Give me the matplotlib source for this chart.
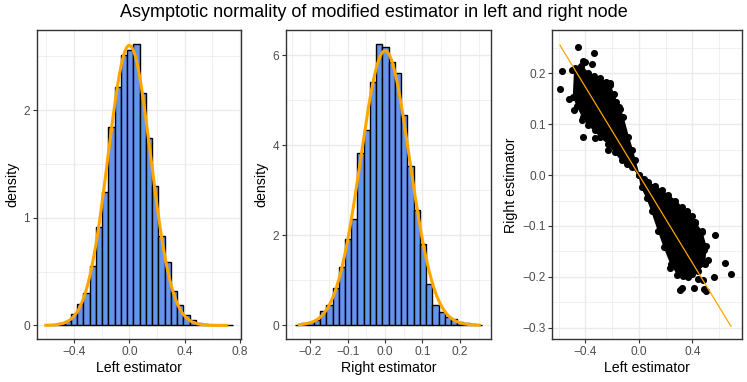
import numpy as np
import matplotlib
matplotlib.use("Agg")
from matplotlib import pyplot as plt
from matplotlib.ticker import MultipleLocator

plt.rcParams['font.family'] = ['Liberation Sans', 'DejaVu Sans']

# left estimator histogram (density, 30 bins)
left_edge0 = -0.604
left_binw = 0.0452
left_dens = [0.003, 0.006, 0.02, 0.045, 0.11, 0.20, 0.30, 0.55, 0.91, 1.24,
             1.84, 2.21, 2.51, 2.56, 2.61, 2.155, 1.74, 1.29, 0.83, 0.59,
             0.32, 0.19, 0.093, 0.05, 0.025, 0.01, 0.004, 0.003, 0.002, 0.003]
left_mean, left_sd = 0.0, 0.1534
left_curve_range = (-0.604, 0.704)

# right estimator histogram
right_edge0 = -0.2406
right_binw = 0.01668
right_dens = [0.01, 0.04, 0.07, 0.12, 0.31, 0.46, 0.82, 1.30, 1.91, 2.36,
              3.82, 4.34, 5.40, 6.25, 6.18, 5.86, 5.60, 4.67, 3.53, 2.56,
              1.81, 0.92, 0.44, 0.30, 0.19, 0.13, 0.07, 0.04, 0.02, 0.01]
right_mean, right_sd = 0.0, 0.0654
right_curve_range = (-0.229, 0.252)

# scatter: dense core outline (upper-left lobe, then lower-right lobe)
core_x = [-0.48, -0.45, -0.43, -0.38, -0.34, -0.29, -0.25, -0.22, -0.19, -0.17,
          -0.14, -0.12, -0.08, -0.05, -0.03, 0.0,
          0.04, 0.07, 0.12, 0.17, 0.22, 0.27, 0.32, 0.36, 0.40, 0.42, 0.47, 0.50,
          0.49, 0.44, 0.40, 0.37, 0.33, 0.29, 0.24, 0.19, 0.145, 0.095, 0.06, 0.02, 0.0,
          -0.05, -0.09, -0.13, -0.18, -0.23, -0.29, -0.33, -0.38, -0.42, -0.46, -0.49]
core_y = [0.21, 0.205, 0.215, 0.20, 0.195, 0.19, 0.182, 0.177, 0.16, 0.144,
          0.13, 0.114, 0.075, 0.05, 0.029, 0.0,
          -0.008, -0.014, -0.022, -0.030, -0.040, -0.050, -0.063, -0.073, -0.080, -0.093, -0.112, -0.14,
          -0.175, -0.188, -0.195, -0.201, -0.198, -0.195, -0.175, -0.142, -0.109, -0.070, -0.045, -0.024, 0.0,
          0.016, 0.022, 0.029, 0.045, 0.062, 0.075, 0.088, 0.098, 0.114, 0.135, 0.154]
# scattered points outside the core
out_x = [-0.459, -0.339, -0.421, -0.404, -0.349, -0.578, -0.591, -0.498, -0.523,
         -0.488, -0.424, -0.416, -0.217, -0.150, -0.329, -0.229,
         0.232, 0.284, 0.319, 0.307, 0.414, 0.439, 0.479, 0.498, 0.489, 0.563,
         0.643, 0.690, 0.568, 0.489, 0.419, 0.356, 0.469, 0.518]
out_y = [0.251, 0.239, 0.224, 0.222, 0.218, 0.205, 0.170, 0.206, 0.149,
         0.128, 0.108, 0.075, 0.180, 0.134, 0.072, 0.049,
         -0.183, -0.197, -0.221, -0.226, -0.221, -0.204, -0.206, -0.227, -0.224, -0.200,
         -0.172, -0.195, -0.117, -0.147, -0.095, -0.070, -0.110, -0.166]
fit_slope = -0.432
fit_range = (-0.591, 0.688)

BAR = '#6495ED'
ORANGE = '#FFA500'

fig = plt.figure(figsize=(7.47, 3.82), dpi=100)
fig.text(0.5, 0.968, 'Asymptotic normality of modified estimator in left and right node',
         ha='center', va='center', fontsize=13)


def style(ax, xmaj, ymaj):
    ax.set_facecolor('white')
    ax.xaxis.set_major_locator(MultipleLocator(xmaj))
    ax.xaxis.set_minor_locator(MultipleLocator(xmaj / 2))
    ax.yaxis.set_major_locator(MultipleLocator(ymaj))
    ax.yaxis.set_minor_locator(MultipleLocator(ymaj / 2))
    ax.grid(True, which='major', color='#EBEBEB', lw=1.0)
    ax.grid(True, which='minor', color='#EBEBEB', lw=0.5)
    ax.set_axisbelow(True)
    for s in ax.spines.values():
        s.set_color('#333333')
        s.set_linewidth(1.0)
    ax.tick_params(which='major', length=2.7, width=0.8, color='#333333',
                   labelsize=8.6, labelcolor='#4D4D4D', pad=2)
    ax.tick_params(which='minor', length=0)


def fmt(ax, xfmt, yfmt):
    ax.set_xticklabels([xfmt(v).replace('-', '\u2212') for v in ax.get_xticks()])
    ax.set_yticklabels([yfmt(v).replace('-', '\u2212') for v in ax.get_yticks()])


def hist_panel(rect, edge0, w, dens, mu, sd, crange, xmaj, ymaj, xlim, ylim, xlabel):
    ax = fig.add_axes(rect)
    style(ax, xmaj, ymaj)
    n = len(dens)
    lefts = edge0 + w * np.arange(n)
    ax.bar(lefts, dens, width=w, align='edge', color=BAR, edgecolor='black', lw=1.0)
    xs = np.linspace(crange[0], crange[1], 300)
    ys = np.exp(-0.5 * ((xs - mu) / sd) ** 2) / (sd * np.sqrt(2 * np.pi))
    ax.plot(xs, ys, color=ORANGE, lw=2.2)
    ax.set_xlim(*xlim)
    ax.set_ylim(*ylim)
    ax.set_xlabel(xlabel, fontsize=10.2, labelpad=2)
    ax.set_ylabel('density', fontsize=10.2, labelpad=3)
    return ax


ax1 = hist_panel([0.0491, 0.1113, 0.2731, 0.810], left_edge0, left_binw, left_dens,
                 left_mean, left_sd, left_curve_range, 0.4, 1,
                 (-0.67, 0.805), (-0.131, 2.743), 'Left estimator')
ax1.set_xticks([-0.4, 0.0, 0.4, 0.8])
ax1.set_yticks([0, 1, 2])
fmt(ax1, lambda v: f'{v:.1f}', lambda v: f'{v:.0f}')

ax2 = hist_panel([0.3829, 0.1113, 0.274, 0.810], right_edge0, right_binw, right_dens,
                 right_mean, right_sd, right_curve_range, 0.1, 2,
                 (-0.265, 0.2826), (-0.316, 6.56), 'Right estimator')
ax2.set_xticks([-0.2, -0.1, 0.0, 0.1, 0.2])
ax2.set_yticks([0, 2, 4, 6])
fmt(ax2, lambda v: f'{v:.1f}', lambda v: f'{v:.0f}')

ax3 = fig.add_axes([0.7394, 0.1113, 0.2535, 0.810])
style(ax3, 0.4, 0.1)
ax3.fill(core_x, core_y, color='black', lw=1)
ax3.scatter(core_x, core_y, s=26, color='black', lw=0)
ax3.scatter(out_x, out_y, s=26, color='black', lw=0)
fx = np.array(fit_range)
ax3.plot(fx, fit_slope * fx, color=ORANGE, lw=0.9)
ax3.set_xlim(-0.648, 0.768)
ax3.set_ylim(-0.323, 0.285)
ax3.set_xticks([-0.4, 0.0, 0.4])
ax3.set_yticks([-0.3, -0.2, -0.1, 0.0, 0.1, 0.2])
fmt(ax3, lambda v: f'{v:.1f}', lambda v: f'{v:.1f}')
ax3.set_xlabel('Left estimator', fontsize=10.2, labelpad=2)
ax3.set_ylabel('Right estimator', fontsize=10.2, labelpad=3)

fig.savefig('out.png', dpi=100)
